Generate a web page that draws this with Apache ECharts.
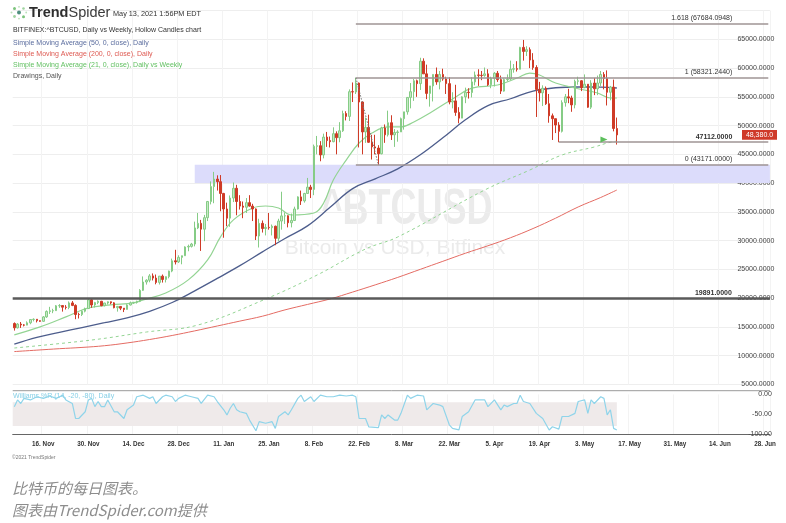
<!DOCTYPE html>
<html><head><meta charset="utf-8">
<script src="https://cdn.jsdelivr.net/npm/echarts@6/dist/echarts.min.js"></script>
<style>html,body{margin:0;padding:0;background:#fff;}#c{width:786px;height:523px;}</style>
</head><body><div id="c"></div>
<script>
// ---------- DATA ----------
const startDay = '2020-11-07';          // first category
const dayCount = 235;                    // categories through 29 Jun 2021
const opens = [15580,14830,15480,15330,15300,15700,16280,16320,16070,15960,16730,17680,17790,17820,18660,18700,18420,18370,19160,18730,17150,17140,17720,18180,19700,18800,19220,19450,18680,19150,19360,19170,18330,18550,18250,18030,18800,19170,19270,19440,21350,22800,23110,23860,23480,22730,23820,23240,23730,24700,26490,26300,27080,27370,28890,29000,29400,32200,33000,31990,33990,36800,39400,40700,40250,38200,35500,33900,37400,39100,36800,36000,35800,36600,36000,35500,30800,33000,32100,32300,32250,32500,30400,33400,34300,34320,33100,33500,35500,37600,36900,38200,39300,38900,46400,46500,44900,48000,47400,47200,48600,47900,49100,52100,51600,55900,55850,57400,54100,48900,49700,47100,46300,46100,45100,49600,48400,50500,48400,48800,48900,51200,52400,54900,55900,57800,57300,61200,59000,55600,56900,58900,57600,58900,58100,57300,54100,54300,52300,51300,55000,55800,55750,57600,58800,58750,58700,59000,57100,58200,59100,58000,56000,58000,58100,59800,59900,59800,63600,62900,63200,61400,60100,56300,55700,56500,53800,51700,51200,50100,49000,54000,55000,54800,53600,57700,57800,56600,57200,53200,57400,56400,57400,58900,58200,55800,56700,49500];
const highs = [15770,15650,15840,15460,15950,16320,16480,16320,16130,16880,17860,18480,18140,18800,18960,18750,18780,19420,19490,18920,17450,17880,18340,19860,19920,19340,19590,19520,19170,19420,19400,19290,18640,18560,18270,18940,19400,19330,19550,21560,23770,23280,24170,24290,24100,23840,24100,23780,24770,26870,28400,27450,27390,29000,29300,29600,33300,34800,33600,34470,36900,40300,41950,41350,41400,38300,36600,37850,40100,39700,37900,36800,37400,37900,36400,35600,33800,33500,32900,34800,32800,32600,33800,38500,34900,34400,34700,35900,37700,38700,38300,40900,39700,46700,48200,47300,48600,48900,48100,49700,49000,50600,52600,52500,56300,57500,58321,57500,54200,51400,51900,48400,48400,46600,49800,50200,52600,51800,49400,49200,51400,52400,54900,57400,58100,58000,61800,61700,60600,56900,58900,60100,59500,59900,58500,58400,55800,57100,53200,55100,56600,56500,58400,59400,59800,59500,60100,59800,58500,59300,59500,58700,58200,58900,61300,60700,61200,63700,64900,63800,63600,62600,60500,57600,57000,56800,55500,52100,51200,50600,54400,55500,56400,55200,58000,58500,57900,58900,57200,57900,58300,58700,59500,59300,59600,56900,58000,51400];
const lows = [14350,14720,14810,15080,15280,15450,15950,15770,15870,15880,16560,17250,17380,17760,18300,17650,18020,18070,18600,16330,16450,16880,17520,18180,18320,18370,18950,18580,18560,18880,18920,18220,17650,17910,17570,18000,18720,19000,19050,19300,21230,22350,22750,23070,22400,22360,22700,22720,23440,24500,25850,26100,25880,27330,28150,28800,29000,32000,28200,29900,33400,36300,36500,38700,35100,30500,32500,32400,36700,34400,35400,33900,34800,35900,33400,30100,28800,31400,30900,31900,30900,29200,29900,31900,32900,32300,32300,33400,35400,36200,36600,38100,37400,37900,45000,43800,44300,46300,46200,47100,45000,47100,48900,50900,50800,54100,55500,46200,45000,47000,47000,44100,45000,43171,45000,47000,48100,47500,46300,47200,48900,49300,51900,53000,54300,55000,56200,59000,54600,53300,54200,57100,56300,57800,55500,53700,53000,51700,50400,51300,53900,54700,54900,57000,56900,57900,58500,56900,56500,56800,57600,55500,55900,57700,57900,59200,59400,59800,61300,62100,60000,59700,51500,54200,53400,53600,50500,47500,48700,47112,48800,53300,53900,52400,53000,57100,56000,56500,53100,52900,55300,55300,56900,56300,53500,54400,49000,46700];
const closes = [14830,15480,15330,15300,15700,16280,16320,16070,15960,16730,17680,17790,17820,18660,18700,18420,18370,19160,18730,17150,17140,17720,18180,19700,18800,19220,19450,18680,19150,19360,19170,18330,18550,18250,18030,18800,19170,19270,19440,21350,22800,23110,23860,23480,22730,23820,23240,23730,24700,26490,26300,27080,27370,28890,29000,29400,32200,33000,31990,33990,36800,39400,40700,40250,38200,35500,33900,37400,39100,36800,36000,35800,36600,36000,35500,30800,33000,32100,32300,32250,32500,30400,33400,34300,34320,33100,33500,35500,37600,36900,38200,39300,38900,46400,46500,44900,48000,47400,47200,48600,47900,49100,52100,51600,55900,55850,57400,54100,48900,49700,47100,46300,46100,45100,49600,48400,50500,48400,48800,48900,51200,52400,54900,55900,57800,57300,61200,59000,55600,56900,58900,57600,58900,58100,57300,54100,54300,52300,51300,55000,55800,55750,57600,58800,58750,58700,59000,57100,58200,59100,58000,56000,58000,58100,59800,59900,59800,63600,62900,63200,61400,60100,56300,55700,56500,53800,51700,51200,50100,49000,54000,55000,54800,53600,57700,57800,56600,57200,53200,57400,56400,57400,58900,58200,55800,56700,49500,48380];

// moving averages (day offset from startDay, value)
const sma200Day = [0,7,14,21,28,35,42,49,56,63,70,77,84,91,98,105,112,119,126,133,140,147,154,161,168,175,182,187];
const sma200Val = [10700,10950,11200,11420,11720,12200,12800,13500,14300,15150,16000,16850,17950,18900,19850,21050,22300,23600,25000,26400,27800,29100,30500,32100,33900,35850,37500,38800];
const sma50Day = sma200Day;
const sma50Val = [12000,13180,14030,14880,15720,16570,17710,19230,21260,23420,25640,28040,30370,32560,35780,39040,40740,42480,44920,47880,51010,53480,54670,56000,56580,56710,56700,56540];
const sma21Day = [0,8,16,23,30,37,40,47,54,60,64,68,74,78,82,86,93,96,99,103,107,111,116,120,124,129,137,142,150,156,160,163,168,174,181,185,187];
const sma21Val = [13600,14990,16730,18300,18820,19170,19690,20900,23170,26650,30650,33600,35670,36020,35670,34450,34800,36540,40540,44010,46970,48710,49770,49770,50640,52200,54990,56530,57060,58270,59140,58800,57400,56540,55670,54800,54800];
const sma21wDay = [0,24,41,57,78,94,109,119,146,160,170,180,184,187];
const sma21wVal = [11320,12710,14100,15320,19840,24020,28540,30630,38800,42280,44890,46280,46970,47320];

// Williams %R (14)
const wrDay = [0,1,2,3,5,7,9,11,13,15,16,18,19,20,22,23,24,25,26,27,28,29,31,32,34,35,37,38,40,42,43,44,46,47,49,50,51,53,55,57,58,60,62,63,65,66,67,68,69,70,72,73,75,76,78,80,81,82,84,85,86,88,89,90,92,93,95,97,99,101,103,105,106,107,109,110,113,114,115,116,118,119,120,122,123,125,127,128,129,130,132,133,135,136,138,139,141,143,146,147,149,151,152,153,155,156,157,158,160,162,164,166,167,169,170,172,174,175,177,178,179,180,182,183,184,185,186,187];
const wrVal = [-31,-14,-23,-10,-14,-6,-10,-4,-10,-2,-14,-23,-61,-61,-44,-14,-10,-31,-18,-31,-31,-14,-44,-44,-61,-39,-27,-6,-2,-10,-6,-23,-6,-2,-6,-18,-10,-2,-6,-10,-23,-2,-6,-18,-39,-52,-35,-23,-39,-44,-48,-65,-92,-69,-73,-69,-86,-56,-44,-52,-39,-10,-2,-18,-6,-18,-2,-6,-6,-2,-4,-2,-6,-61,-61,-82,-84,-52,-61,-52,-65,-65,-48,-2,-10,-2,-4,-39,-31,-23,-27,-31,-77,-86,-90,-56,-44,-14,-14,-31,-14,-39,-27,-31,-23,-23,-2,-18,-23,-48,-61,-90,-82,-88,-56,-56,-48,-18,-14,-48,-14,-23,-6,-10,-52,-39,-86,-90];

// drawings
const fibHighDay = 106, fibLowDay = 113;
const fibLevels = [{name:'1.618', v:67684.0948},{name:'1', v:58321.2440},{name:'0', v:43171.0000}];
const supportDay = 169, supportLevel = 47112;
const bigLevel = 19891;
const zoneStartDay = 56, zoneLow = 40000, zoneHigh = 43171;
const crossDay = 183, crossVal = 47600;

const monthNames = ['Jan','Feb','Mar','Apr','May','Jun','Jul','Aug','Sep','Oct','Nov','Dec'];
const firstTickDay = 9, tickEvery = 14;

// ---------- BUILD ----------
const cats = [];
const t0 = Date.parse(startDay + 'T00:00:00Z');
for (let i = 0; i < dayCount; i++) cats.push(new Date(t0 + i * 86400000).toISOString().slice(0, 10));
const lastCat = cats[cats.length - 1];

const G = '#78c678', GL = '#c6e9c6', R = '#cf3b27', RL = '#f6c6bf', RB = '#e58f84', GB = '#86cc86';
const candleData = opens.map((o, i) => {
  const c = closes[i], pc = i ? closes[i - 1] : o;
  const up = c >= pc, hollow = c > o;
  let fill, border;
  if (up) { fill = hollow ? GL : G; border = hollow ? GB : G; }
  else { fill = hollow ? RL : R; border = hollow ? RB : R; }
  return { value: [o, c, lows[i], highs[i]], itemStyle: { color: fill, color0: fill, borderColor: border, borderColor0: border } };
});
const pairs = (days, vals) => days.map((d, i) => [cats[d], vals[i]]);

const tickFn = (idx) => idx >= firstTickDay && (idx - firstTickDay) % tickEvery === 0;
const fmtDate = (s) => { const d = new Date(s + 'T00:00:00Z'); return d.getUTCDate() + '. ' + monthNames[d.getUTCMonth()]; };
const FONT = '"Liberation Sans", Arial, sans-serif';

const gridLeft = 12.7, gridRight = 16.1;
const fibLabel = (txt, bold) => ({ show: true, formatter: txt, position: 'insideEndTop', distance: [36, 2], fontSize: 7, color: '#333', fontFamily: FONT, fontWeight: bold ? 'bold' : 'normal' });

const markLines = [];
fibLevels.forEach(f => {
  markLines.push([{ coord: [cats[fibHighDay], f.v], label: fibLabel(f.name + ' (' + f.v.toFixed(4) + ')') }, { coord: [lastCat, f.v] }]);
});
markLines.push([{ coord: [cats[supportDay], supportLevel], label: fibLabel(supportLevel.toFixed(4), true) }, { coord: [lastCat, supportLevel] }]);
markLines.push({ yAxis: bigLevel, lineStyle: { color: '#5a5a5a', width: 2.5 }, label: { show: true, formatter: bigLevel.toFixed(4), position: 'insideEndTop', distance: [38, 2], fontSize: 7, color: '#333', fontWeight: 'bold', fontFamily: FONT } });
markLines.push([{ coord: [cats[fibHighDay], fibLevels[1].v], lineStyle: { type: [1.5, 1.5], color: '#777', width: 1 }, label: { show: false } }, { coord: [cats[fibLowDay], fibLevels[2].v] }]);

const chart = echarts.init(document.getElementById('c'), null, { renderer: 'canvas' });
const option = {
  animation: false,
  textStyle: { fontFamily: FONT },
  grid: [
    { left: gridLeft, right: gridRight, top: 10.6, height: 373.75 },
    { left: gridLeft, right: gridRight, top: 394.4, height: 39.5 }
  ],
  xAxis: [
    { type: 'category', gridIndex: 0, data: cats, boundaryGap: true,
      axisLine: { show: false }, axisTick: { show: false }, axisLabel: { show: false },
      splitLine: { show: true, interval: (i) => tickFn(i), lineStyle: { color: '#f3f3f3', width: 1 } } },
    { type: 'category', gridIndex: 1, data: cats, boundaryGap: true, position: 'bottom',
      axisLine: { onZero: false, lineStyle: { color: '#666', width: 1 } },
      axisTick: { alignWithLabel: true, interval: (i) => tickFn(i), length: 4, lineStyle: { color: '#666' } },
      axisLabel: { interval: (i) => tickFn(i), formatter: fmtDate, fontSize: 6.3, fontWeight: 'bold', color: '#333', margin: 7.5, fontFamily: FONT },
      splitLine: { show: true, interval: (i) => tickFn(i), lineStyle: { color: '#f3f3f3', width: 1 } } }
  ],
  yAxis: [
    { type: 'value', gridIndex: 0, position: 'right', min: 5000, max: 70000, interval: 5000, scale: false,
      axisLine: { show: false }, axisTick: { show: false },
      splitLine: { lineStyle: { color: '#eeeeee', width: 1 } },
      axisLabel: { margin: 4.5, align: 'right', fontSize: 7, color: '#444', fontFamily: FONT, padding: [0, 0, 4, 0],
        formatter: (v) => v >= 70000 ? '' : v.toFixed(4) } },
    { type: 'value', gridIndex: 1, position: 'right', min: -100, max: 0, interval: 50,
      axisLine: { show: false }, axisTick: { show: false },
      splitLine: { show: false },
      axisLabel: { margin: 2, align: 'right', fontSize: 7, color: '#444', fontFamily: FONT, formatter: (v) => v.toFixed(2) } }
  ],
  series: [
    { type: 'candlestick', xAxisIndex: 0, yAxisIndex: 0, data: candleData, barWidth: 2, z: 3,
      itemStyle: { borderWidth: 1 },
      markArea: { silent: true, itemStyle: { color: '#dcdcfb' },
        data: [[{ xAxis: cats[zoneStartDay], yAxis: zoneLow }, { yAxis: zoneHigh }]] },
      markLine: { silent: true, symbol: ['none', 'none'], animation: false,
        lineStyle: { color: '#9f9595', width: 1.5, type: 'solid' }, label: { show: false }, data: markLines } },
    { type: 'line', name: 'SMA200', data: pairs(sma200Day, sma200Val), smooth: 0.4, showSymbol: false, symbol: 'none',
      lineStyle: { color: '#e46b63', width: 1 }, z: 2 },
    { type: 'line', name: 'SMA50', data: pairs(sma50Day, sma50Val), smooth: 0.4, symbol: 'none',
      lineStyle: { color: '#4d5d8c', width: 1.3 }, z: 2 },
    { type: 'line', name: 'SMA21', data: pairs(sma21Day, sma21Val), smooth: 0.4, symbol: 'none',
      lineStyle: { color: '#93d493', width: 1.2 }, z: 2 },
    { type: 'line', name: 'SMA21W', data: pairs(sma21wDay, sma21wVal), smooth: 0.4, symbol: 'none',
      lineStyle: { color: '#93d493', width: 1, type: [3, 3] }, z: 2,
      markPoint: { silent: true, symbol: 'triangle', symbolSize: [6, 7], symbolRotate: -90,
        itemStyle: { color: '#5cbf5c' }, label: { show: false },
        data: [{ coord: [cats[crossDay], crossVal] }] } },
    { type: 'line', name: 'WR', xAxisIndex: 1, yAxisIndex: 1, data: pairs(wrDay, wrVal), symbol: 'none',
      lineStyle: { color: '#8fd4ea', width: 1.2 }, z: 3,
      markArea: { silent: true, itemStyle: { color: '#efeaea' },
        data: [[{ yAxis: -20 }, { xAxis: cats[wrDay[wrDay.length - 1]], yAxis: -80 }]] } }
  ]
};
chart.setOption(option);

// price tag position from the library's scale
const lastClose = closes[closes.length - 1];
const py = chart.convertToPixel({ yAxisIndex: 0 }, lastClose);
const tagTxt = lastClose.toLocaleString('en-US', { minimumFractionDigits: 1, maximumFractionDigits: 1 });

const logoDots = [
  [19, 12.5, 2.0, '#4f8f7f'], [14.5, 8.5, 1.5, '#7cc47c'], [23.5, 8.5, 1.3, '#9fd49f'],
  [14.5, 16.5, 1.4, '#9fd49f'], [23.5, 16.8, 1.5, '#7cc47c'], [11.5, 12.5, 1.0, '#b8e0b8'],
  [19, 6.8, 0.9, '#b8e0b8'], [26.2, 12.5, 0.9, '#b8e0b8'], [19, 18.6, 0.9, '#b8e0b8']
];
const gfx = [];
logoDots.forEach(d => gfx.push({ type: 'circle', shape: { cx: d[0], cy: d[1], r: d[2] }, style: { fill: d[3] }, silent: true }));
gfx.push({ type: 'text', x: 29, y: 13, silent: true, style: { text: '{a|Trend}{b|Spider}', verticalAlign: 'middle',
  rich: { a: { fontSize: 14.5, fontWeight: 'bold', fill: '#2e2e2e', fontFamily: FONT }, b: { fontSize: 14.5, fontWeight: 'normal', fill: '#3a3a3a', fontFamily: FONT } } } });
const txt = (t, x, y, size, color, extra) => Object.assign({ type: 'text', x: x, y: y, silent: true,
  style: Object.assign({ text: t, fontSize: size, fill: color, fontFamily: FONT, verticalAlign: 'middle' }, extra || {}) });
gfx.push(txt('May 13, 2021 1:56PM EDT', 113, 13.5, 7.3, '#333'));
gfx.push(txt('BITFINEX:^BTCUSD, Daily vs Weekly, Hollow Candles chart', 13, 30, 7, '#333'));
gfx.push(txt('Simple Moving Average (50, 0, close), Daily', 13, 43.5, 7, '#5a6c9e'));
gfx.push(txt('Simple Moving Average (200, 0, close), Daily', 13, 54.5, 7, '#de5a52'));
gfx.push(txt('Simple Moving Average (21, 0, close), Daily vs Weekly', 13, 65.2, 7, '#62c062'));
gfx.push(txt('Drawings, Daily', 13, 76, 7, '#555'));
// watermark
gfx.push({ type: 'text', x: 407, y: 210, scaleX: 0.72, z: -1, silent: true,
  style: { text: '^BTCUSD', fontSize: 50, fontWeight: 'bold', fill: '#ebebeb', fontFamily: FONT, align: 'center', verticalAlign: 'middle' } });
gfx.push({ type: 'text', x: 395, y: 248, z: -1, silent: true,
  style: { text: 'Bitcoin vs USD, Bitfinex', fontSize: 21, fill: '#ebebeb', fontFamily: FONT, align: 'center', verticalAlign: 'middle' } });
// williams panel
gfx.push({ type: 'line', silent: true, shape: { x1: gridLeft, y1: 390.7, x2: 786 - gridRight, y2: 390.7 }, style: { stroke: '#9a9a9a', lineWidth: 1 } });
gfx.push(txt('Williams %R (14, -20, -80), Daily', 13, 396.5, 7, '#86cfe6'));
// price tag
gfx.push({ type: 'rect', silent: true, shape: { x: 742, y: py - 4.8, width: 35, height: 9.6 }, style: { fill: '#cf3a29' } });
gfx.push(txt(tagTxt, 759.5, py, 7, '#fff', { align: 'center' }));
// footer
gfx.push(txt('\u00a92021 TrendSpider', 12, 458, 5, '#777'));
gfx.push(txt('比特币的每日图表。', 12, 488.5, 15, '#8d8d8d', { fontFamily: '"Noto Sans CJK SC", sans-serif', fontStyle: 'italic' }));
gfx.push(txt('图表由TrendSpider.com提供', 12, 510, 15, '#8d8d8d', { fontFamily: '"Noto Sans CJK SC", sans-serif', fontStyle: 'italic' }));

chart.setOption({ graphic: { elements: gfx } });
</script></body></html>
